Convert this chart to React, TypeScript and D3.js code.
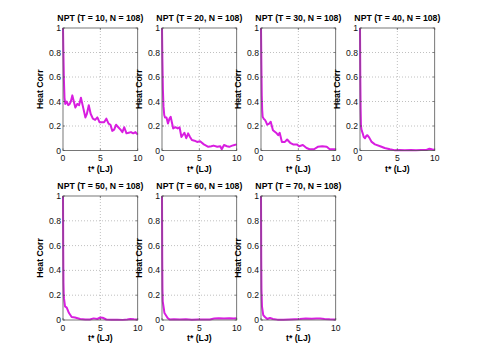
import React, { useEffect, useRef } from 'react';
import * as d3 from 'd3';

// panel titles
const temps = [10, 20, 30, 40, 50, 60, 70];
const yTicks = [0, 0.2, 0.4, 0.6, 0.8, 1];
const xTicks = [0, 5, 10];

// heat correlation vs t*
const tT10 = [0, 0.05, 0.12, 0.2, 0.3, 0.5, 0.7, 0.9, 1.05, 1.25, 1.45, 1.65, 1.9, 2.15, 2.4, 2.7, 3.0, 3.2, 3.45, 3.7, 4.0, 4.3, 4.6, 4.9, 5.2, 5.5, 5.8, 6.1, 6.35, 6.6, 6.85, 7.1, 7.4, 7.7, 7.95, 8.2, 8.5, 8.8, 9.1, 9.4, 9.7, 10];
const hT10 = [1, 0.8, 0.58, 0.43, 0.38, 0.4, 0.37, 0.38, 0.4, 0.45, 0.4, 0.35, 0.38, 0.37, 0.43, 0.35, 0.27, 0.3, 0.37, 0.3, 0.26, 0.25, 0.27, 0.23, 0.23, 0.23, 0.26, 0.22, 0.21, 0.16, 0.17, 0.21, 0.19, 0.17, 0.15, 0.19, 0.14, 0.145, 0.15, 0.14, 0.15, 0.13];

const tT20 = [0, 0.05, 0.12, 0.2, 0.3, 0.4, 0.6, 0.8, 1.0, 1.16, 1.5, 1.8, 2.1, 2.35, 2.6, 3.0, 3.25, 3.5, 3.75, 4.0, 4.35, 4.7, 5.1, 5.6, 6.2, 6.6, 6.9, 7.4, 7.8, 8.0, 8.3, 8.7, 9.0, 9.4, 9.7, 10];
const hT20 = [1, 0.75, 0.5, 0.36, 0.29, 0.27, 0.27, 0.22, 0.26, 0.275, 0.18, 0.19, 0.18, 0.19, 0.11, 0.145, 0.1, 0.14, 0.11, 0.085, 0.08, 0.07, 0.075, 0.05, 0.03, 0.035, 0.04, 0.03, 0.035, 0.01, 0.045, 0.035, 0.03, 0.04, 0.045, 0.05];

const tT30 = [0, 0.05, 0.1, 0.16, 0.22, 0.35, 0.53, 0.7, 0.84, 1.1, 1.3, 1.6, 2.1, 2.3, 2.5, 2.8, 3.2, 3.5, 3.9, 4.3, 4.8, 5.1, 5.6, 6.1, 6.5, 7.1, 7.6, 8.2, 8.8, 9.2, 9.6, 10];
const hT30 = [1, 0.7, 0.45, 0.33, 0.275, 0.26, 0.25, 0.23, 0.21, 0.22, 0.235, 0.165, 0.14, 0.125, 0.145, 0.07, 0.07, 0.09, 0.063, 0.05, 0.05, 0.035, 0.045, 0.02, 0.01, 0.01, 0.03, 0.035, 0.03, 0.01, 0.01, 0.01];

const tT40 = [0, 0.04, 0.08, 0.13, 0.2, 0.36, 0.5, 0.67, 0.85, 0.98, 1.24, 1.56, 2.0, 2.7, 3.3, 4.0, 4.6, 5.3, 6.0, 6.8, 7.5, 8.2, 8.9, 9.3, 9.6, 10];
const hT40 = [1, 0.6, 0.35, 0.2, 0.17, 0.14, 0.11, 0.1, 0.12, 0.125, 0.105, 0.07, 0.05, 0.035, 0.02, 0.01, 0.003, 0.005, 0.002, 0.004, 0.002, 0.005, 0.004, 0.015, 0.01, 0.005];

const tT50 = [0, 0.03, 0.06, 0.1, 0.14, 0.27, 0.5, 0.8, 1.16, 1.6, 2.3, 3.0, 3.6, 4.1, 4.6, 5.0, 5.3, 5.8, 6.5, 7.3, 8.0, 8.6, 9.0, 9.5, 10];
const hT50 = [1, 0.55, 0.3, 0.2, 0.17, 0.11, 0.1, 0.056, 0.024, 0.02, 0.008, 0.005, 0.004, 0.013, 0.008, 0.02, 0.018, 0.004, 0.002, 0.003, 0.001, 0.004, 0.008, 0.006, 0.005];

const tT60 = [0, 0.03, 0.06, 0.1, 0.2, 0.33, 0.5, 0.75, 1.0, 1.6, 2.4, 3.2, 4.0, 4.8, 5.6, 6.4, 7.0, 7.6, 8.3, 9.0, 9.6, 10];
const hT60 = [1, 0.5, 0.25, 0.15, 0.11, 0.056, 0.04, 0.016, 0.005, 0.006, 0.004, 0.006, 0.003, 0.005, 0.004, 0.004, 0.012, 0.014, 0.012, 0.015, 0.013, 0.014];

const tT70 = [0, 0.03, 0.06, 0.13, 0.3, 0.53, 0.84, 1.2, 1.6, 2.2, 3.0, 3.8, 4.5, 5.2, 6.0, 6.8, 7.4, 7.9, 8.5, 9.2, 10];
const hT70 = [1, 0.5, 0.25, 0.11, 0.04, 0.024, 0.008, 0.016, 0.008, 0.003, 0.002, 0.004, 0.006, 0.008, 0.013, 0.01, 0.012, 0.013, 0.008, 0.006, 0.005];

const seriesT = [tT10, tT20, tT30, tT40, tT50, tT60, tT70];
const seriesH = [hT10, hT20, hT30, hT40, hT50, hT60, hT70];

const W = 480;
const H = 360;
const colLeft = [63, 162, 261, 360];
const rowTop = [28, 196];
const rowH = [122.5, 124];
const panelW = 74.7;
const FONT = '"Liberation Sans", Arial, sans-serif';
const LINE_COLOR = '#d81ee0';

const App = () => {
  const ref = useRef<SVGSVGElement | null>(null);

  useEffect(() => {
    const svg = d3.select(ref.current);
    svg.selectAll('*').remove();

    temps.forEach((temp, i) => {
      const col = i % 4;
      const row = Math.floor(i / 4);
      const x0 = colLeft[col];
      const y0 = rowTop[row];
      const h = rowH[row];

      const x = d3.scaleLinear().domain([0, 10]).range([x0, x0 + panelW]);
      const y = d3.scaleLinear().domain([0, 1]).range([y0 + h, y0]);

      const g = svg.append('g');

      g.append('rect')
        .attr('x', x0).attr('y', y0)
        .attr('width', panelW).attr('height', h)
        .attr('fill', '#fff');

      // grid
      g.selectAll('.gy').data(yTicks.filter((d) => d > 0 && d < 1)).enter()
        .append('line')
        .attr('x1', x0).attr('x2', x0 + panelW)
        .attr('y1', (d) => y(d)).attr('y2', (d) => y(d))
        .attr('stroke', '#b0b0b0').attr('stroke-width', 0.8)
        .attr('stroke-dasharray', '1,2');
      g.selectAll('.gx').data(xTicks.filter((d) => d > 0 && d < 10)).enter()
        .append('line')
        .attr('y1', y0).attr('y2', y0 + h)
        .attr('x1', (d) => x(d)).attr('x2', (d) => x(d))
        .attr('stroke', '#b0b0b0').attr('stroke-width', 0.8)
        .attr('stroke-dasharray', '1,2');

      // curve
      const pts = seriesT[i].map((t, k) => [t, seriesH[i][k]] as [number, number]);
      const line = d3.line<[number, number]>()
        .x((d) => x(d[0]))
        .y((d) => y(d[1]));
      g.append('path')
        .attr('d', line(pts))
        .attr('fill', 'none')
        .attr('stroke', LINE_COLOR)
        .attr('stroke-width', 2)
        .attr('stroke-linejoin', 'round');

      // box + tick marks
      g.append('rect')
        .attr('x', x0).attr('y', y0)
        .attr('width', panelW).attr('height', h)
        .attr('fill', 'none').attr('stroke', '#555').attr('stroke-width', 0.8);
      yTicks.forEach((d) => {
        g.append('line').attr('x1', x0).attr('x2', x0 + 2)
          .attr('y1', y(d)).attr('y2', y(d)).attr('stroke', '#555').attr('stroke-width', 0.7);
        g.append('line').attr('x1', x0 + panelW - 2).attr('x2', x0 + panelW)
          .attr('y1', y(d)).attr('y2', y(d)).attr('stroke', '#555').attr('stroke-width', 0.7);
      });
      xTicks.forEach((d) => {
        g.append('line').attr('x1', x(d)).attr('x2', x(d))
          .attr('y1', y0 + h).attr('y2', y0 + h - 2).attr('stroke', '#555').attr('stroke-width', 0.7);
        g.append('line').attr('x1', x(d)).attr('x2', x(d))
          .attr('y1', y0).attr('y2', y0 + 2).attr('stroke', '#555').attr('stroke-width', 0.7);
      });

      // tick labels
      g.selectAll('.yl').data(yTicks).enter()
        .append('text')
        .attr('x', x0 - 2)
        .attr('y', (d) => y(d))
        .attr('dy', '0.35em')
        .attr('text-anchor', 'end')
        .attr('font-family', FONT).attr('font-size', 8.6).attr('fill', '#111')
        .text((d) => String(d));
      g.selectAll('.xl').data(xTicks).enter()
        .append('text')
        .attr('x', (d) => x(d))
        .attr('y', y0 + h + 10.5)
        .attr('text-anchor', 'middle')
        .attr('font-family', FONT).attr('font-size', 8.6).attr('fill', '#111')
        .text((d) => String(d));

      // title and axis labels
      g.append('text')
        .attr('x', x0 + panelW / 2)
        .attr('y', y0 - 7.5)
        .attr('text-anchor', 'middle')
        .attr('font-family', FONT).attr('font-size', 8.7).attr('font-weight', 'bold').attr('fill', '#000')
        .text(`NPT (T = ${temp}, N = 108)`);
      g.append('text')
        .attr('x', x0 + panelW / 2)
        .attr('y', y0 + h + 21)
        .attr('text-anchor', 'middle')
        .attr('font-family', FONT).attr('font-size', 8.7).attr('font-weight', 'bold').attr('fill', '#000')
        .text('t* (LJ)');
      g.append('text')
        .attr('transform', `translate(${x0 - 20},${y0 + h / 2}) rotate(-90)`)
        .attr('text-anchor', 'middle')
        .attr('font-family', FONT).attr('font-size', 8.7).attr('font-weight', 'bold').attr('fill', '#000')
        .text('Heat Corr');
    });
  }, []);

  return (
    <svg
      ref={ref}
      width={W}
      height={H}
      style={{ position: 'absolute', left: 0, top: 0, background: '#fff' }}
    />
  );
};

export default App;
